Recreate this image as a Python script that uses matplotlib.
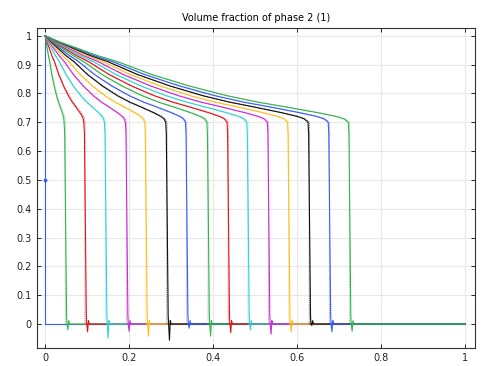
# volume fraction profiles, numerical (solid) vs analytical (dotted)

import numpy as np
import matplotlib.pyplot as plt

# x at the foot of each shock front, one curve per output time
fronts = [0.0, 0.052, 0.099, 0.148, 0.198, 0.244, 0.294, 0.341, 0.392,
          0.440, 0.487, 0.536, 0.584, 0.633, 0.681, 0.729]

# undershoot just behind each front
dips = [0.0, -0.020, -0.027, -0.049, -0.025, -0.042, -0.056, -0.014, -0.042,
        -0.030, -0.020, -0.035, -0.027, -0.005, -0.027, -0.025]

# rarefaction shape, x given relative to the shock
xi = [0.0, 0.05, 0.108, 0.17, 0.239, 0.35, 0.474, 0.6, 0.7, 0.8, 0.9,
      0.96, 0.985, 1.0]
sat = [1.0, 0.978, 0.956, 0.932, 0.910, 0.866, 0.826, 0.792, 0.770, 0.752,
       0.733, 0.720, 0.712, 0.700]

title = "Volume fraction of phase 2 (1)"

cycle = ["#3b5cf6", "#33b54a", "#e3131c", "#2fd3d6", "#cf2ad4", "#ffbe1a",
         "#111111"]


def main():
    fig = plt.figure(figsize=(4.82, 3.66), dpi=100)
    ax = fig.add_axes([0.0763, 0.0500, 0.9094, 0.8743])

    xi_a = np.array(xi)
    sat_a = np.array(sat)

    for k, xf in enumerate(fronts):
        c = cycle[k % len(cycle)]
        if k == 0:
            ax.plot([0.0, 0.0, 0.003, 1.0], [1.0, 0.0, 0.0, 0.0], color=c,
                    lw=0.8)
            ax.plot([0.0], [0.5], "o", color=c, ms=1.8)
            continue

        # numerical solution, slightly smeared front
        xk = xf - 0.007
        xs = np.concatenate([xi_a*xk,
                             [xk + 0.0015, xf - 0.001, xf, xf + 0.002,
                              xf + 0.004, xf + 0.006, 1.0]])
        ys = np.concatenate([sat_a, [0.66, 0.03, 0.0, dips[k], 0.012, 0.0,
                                     0.0]])
        ax.plot(xs, ys, color=c, lw=0.8)

        # analytical solution, sharp shock
        xa = xf - 0.004
        xs = np.concatenate([xi_a*xa, [xa, xa + 0.001, 1.0]])
        ys = np.concatenate([sat_a, [0.0, 0.0, 0.0]])
        ax.plot(xs, ys, color=c, lw=0.7, ls=(0, (1, 1)), alpha=0.7)

    ax.set_xlim(-0.02, 1.024)
    ax.set_ylim(-0.082, 1.028)
    ax.set_xticks(np.arange(0, 1.01, 0.2))
    ax.set_yticks(np.arange(0, 1.01, 0.1))
    ax.set_xticklabels(["0", "0.2", "0.4", "0.6", "0.8", "1"])
    ax.set_yticklabels(["0", "0.1", "0.2", "0.3", "0.4", "0.5", "0.6", "0.7",
                        "0.8", "0.9", "1"])
    ax.grid(True, color="#e8e8e8", lw=0.8)
    ax.set_axisbelow(True)
    ax.tick_params(direction="in", length=3, width=0.7, labelsize=7,
                   top=True, right=True, colors="#222222", labelcolor="#222222")
    for s in ax.spines.values():
        s.set_linewidth(0.8)
        s.set_color("#333333")

    ax.set_title(title, fontsize=7, pad=5)

    plt.savefig("out.png", dpi=100)


if __name__ == "__main__":
    main()
